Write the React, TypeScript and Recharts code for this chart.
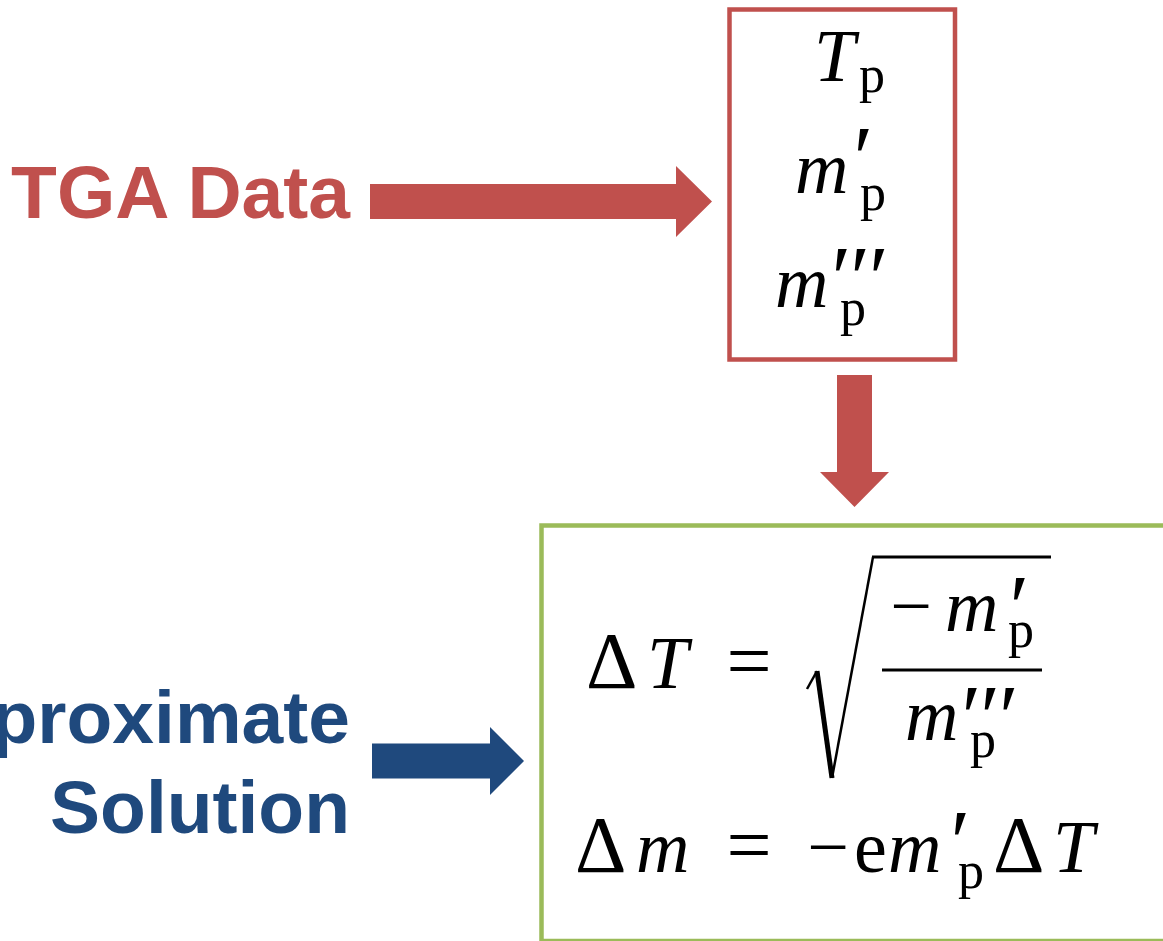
import { ComposedChart, ReferenceArea, ReferenceDot, ReferenceLine, XAxis, YAxis } from 'recharts';

// Canvas size in axis units (1 unit = 1 px, so the diagram can be laid out by eye).
const W = 1163;
const H = 941;

const inputLabel = 'TGA Data';
const solutionLines = ['Approximate', 'Solution'];
const tgaSymbols = ['T', 'm', 'm'];
const tgaPrimes = ['', '′', '′′′'];
const subscript = 'p';

const RED = '#C0504D';
const BLUE = '#1F497D';
const GREEN = '#9BBB59';
const sans = '"Liberation Sans", Arial, sans-serif';
const serif = '"Liberation Serif", "Times New Roman", serif';

type ArrowDir = 'right' | 'down';

/** Block arrow filling the rectangle that ReferenceArea hands over. */
const arrowShape = (dir: ArrowDir, head: number, shaft: number) => (p: any) => {
  const { x, y, width: w, height: h, fill } = p;
  let pts: number[][];
  if (dir === 'right') {
    const cy = y + h / 2;
    const hx = x + w - head;
    pts = [
      [x, cy - shaft / 2],
      [hx, cy - shaft / 2],
      [hx, y],
      [x + w, cy],
      [hx, y + h],
      [hx, cy + shaft / 2],
      [x, cy + shaft / 2],
    ];
  } else {
    const cx = x + w / 2;
    const hy = y + h - head;
    pts = [
      [cx - shaft / 2, y],
      [cx + shaft / 2, y],
      [cx + shaft / 2, hy],
      [x + w, hy],
      [cx, y + h],
      [x, hy],
      [cx - shaft / 2, hy],
    ];
  }
  return <polygon points={pts.map((q) => q.join(',')).join(' ')} fill={fill} />;
};

type TextOpts = {
  size?: number;
  italic?: boolean;
  bold?: boolean;
  anchor?: 'start' | 'middle' | 'end';
  fill?: string;
  family?: string;
  spacing?: number;
};

// A piece of text pinned to an (x, y) point of the chart's scales.
const textAt = (key: string, x: number, y: number, text: string, o: TextOpts = {}) => (
  <ReferenceDot
    key={key}
    x={x}
    y={y}
    r={0}
    ifOverflow="visible"
    shape={(p: any) => (
      <text
        x={p.cx}
        y={p.cy}
        fontFamily={o.family ?? serif}
        fontSize={o.size ?? 74}
        fontStyle={o.italic ? 'italic' : 'normal'}
        fontWeight={o.bold ? 'bold' : 'normal'}
        textAnchor={o.anchor ?? 'start'}
        fill={o.fill ?? '#000'}
        letterSpacing={o.spacing ?? 0}
      >
        {text}
      </text>
    )}
  />
);

// primes are set large and slanted, as TeX draws them
const prime = (key: string, x: number, y: number, text: string) =>
  textAt(key, x, y, text, { size: 90, italic: true, spacing: -1 });

const seg = (key: string, x1: number, y1: number, x2: number, y2: number, width: number) => (
  <ReferenceLine
    key={key}
    segment={[
      { x: x1, y: y1 },
      { x: x2, y: y2 },
    ]}
    stroke="#000"
    strokeWidth={width}
    ifOverflow="visible"
  />
);

export default function App() {
  const boxRows = [
    { base: 81, symX: 814, primeX: 0, primeY: 0, subX: 859, subY: 92 },
    { base: 193, symX: 795, primeX: 848, primeY: 189, subX: 860, subY: 210 },
    { base: 307, symX: 775, primeX: 826, primeY: 309, subX: 840, subY: 325 },
  ];

  return (
    <div style={{ position: 'absolute', left: 0, top: 0, width: W, height: H, background: '#fff' }}>
      <ComposedChart width={W} height={H} margin={{ top: 0, right: 0, bottom: 0, left: 0 }}>
        <XAxis type="number" dataKey="x" domain={[0, W]} allowDataOverflow hide />
        <YAxis type="number" dataKey="y" domain={[0, H]} allowDataOverflow reversed hide />

        {/* boxes */}
        <ReferenceArea
          x1={729.5}
          x2={955}
          y1={9.5}
          y2={359.5}
          fill="none"
          stroke={RED}
          strokeWidth={4.5}
          ifOverflow="visible"
        />
        <ReferenceArea
          x1={541.5}
          x2={W + 5}
          y1={525.5}
          y2={941}
          fill="none"
          stroke={GREEN}
          strokeWidth={4.5}
          ifOverflow="visible"
        />

        {/* arrows */}
        <ReferenceArea
          x1={370}
          x2={712}
          y1={166}
          y2={237}
          fill={RED}
          fillOpacity={1}
          ifOverflow="visible"
          shape={arrowShape('right', 36, 35)}
        />
        <ReferenceArea
          x1={820}
          x2={889}
          y1={375}
          y2={507}
          fill={RED}
          fillOpacity={1}
          ifOverflow="visible"
          shape={arrowShape('down', 35, 35)}
        />
        <ReferenceArea
          x1={372}
          x2={524}
          y1={727}
          y2={795}
          fill={BLUE}
          fillOpacity={1}
          ifOverflow="visible"
          shape={arrowShape('right', 34, 35)}
        />

        {/* left labels */}
        {textAt('tga', 350, 218, inputLabel, { family: sans, bold: true, size: 75, anchor: 'end', fill: RED })}
        {solutionLines.map((line, i) =>
          textAt(`sol${i}`, 350, 743 + i * 90, line, {
            family: sans,
            bold: true,
            size: 75,
            anchor: 'end',
            fill: BLUE,
          }),
        )}

        {/* TGA quantities */}
        {tgaSymbols.map((s, i) => [
          textAt(`sym${i}`, boxRows[i].symX, boxRows[i].base, s, { italic: true }),
          tgaPrimes[i] ? prime(`pr${i}`, boxRows[i].primeX, boxRows[i].primeY, tgaPrimes[i]) : null,
          textAt(`sub${i}`, boxRows[i].subX, boxRows[i].subY, subscript, { size: 52 }),
        ])}

        {/* ΔT = sqrt(-m'p / m'''p) */}
        {textAt('f1d', 586, 688, 'Δ', { size: 80 })}
        {textAt('f1t', 647, 688, 'T', { italic: true })}
        {textAt('f1eq', 749, 688, '=', { anchor: 'middle', size: 80 })}
        {seg('r1', 807, 689, 817, 671, 2.5)}
        {seg('r2', 817, 671, 832, 778, 5)}
        {seg('r3', 832, 778, 873, 557, 2.5)}
        {seg('r4', 872, 557, 1051, 557, 3)}
        {textAt('nmin', 911, 631, '−', { anchor: 'middle' })}
        {textAt('nm', 945, 631, 'm', { italic: true })}
        {prime('npr', 1004, 638, tgaPrimes[1])}
        {textAt('nsub', 1008, 647, subscript, { size: 52 })}
        {seg('bar', 882, 670, 1042, 670, 3)}
        {textAt('dm', 905, 740, 'm', { italic: true })}
        {prime('dpr', 956, 748, tgaPrimes[2])}
        {textAt('dsub', 970, 757, subscript, { size: 52 })}

        {/* Δm = -e m'p ΔT */}
        {textAt('f2d', 575, 872, 'Δ', { size: 80 })}
        {textAt('f2m', 636, 872, 'm', { italic: true })}
        {textAt('f2eq', 749, 872, '=', { anchor: 'middle', size: 80 })}
        {textAt('f2min', 828, 872, '−', { anchor: 'middle' })}
        {textAt('f2e', 854, 872, 'e')}
        {textAt('f2m2', 888, 872, 'm', { italic: true })}
        {prime('f2pr', 945, 873, tgaPrimes[1])}
        {textAt('f2sub', 958, 888, subscript, { size: 52 })}
        {textAt('f2d2', 993, 872, 'Δ', { size: 80 })}
        {textAt('f2t', 1053, 872, 'T', { italic: true })}
      </ComposedChart>
    </div>
  );
}
